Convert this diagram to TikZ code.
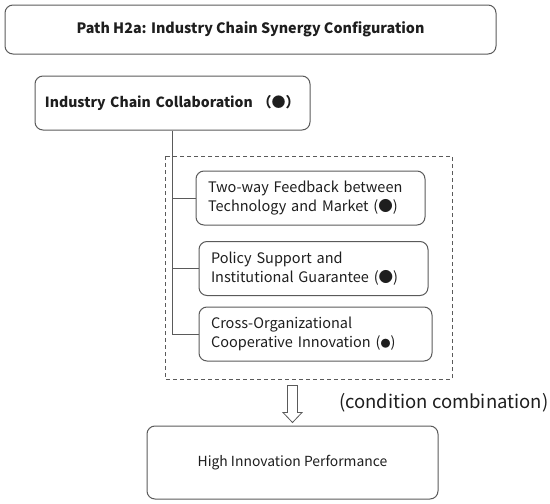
\documentclass[tikz,border=0pt]{standalone}
\usepackage{fontspec}
\usetikzlibrary{calc}
\setmainfont{Noto Sans CJK SC}
\definecolor{edge}{HTML}{5A5A5A}
\definecolor{ink}{HTML}{1E1E1E}
\tikzset{
  roundbox/.style={draw=edge,line width=1pt,rounded corners=8pt,text=ink,inner sep=0pt},
  factorbox/.style={roundbox,minimum height=54pt,text width=#1,align=left,font=\fontsize{14.5}{19.5}\selectfont},
  link/.style={draw=edge,line width=0.8pt}
}
\begin{document}
\begin{tikzpicture}[x=1pt,y=-1pt]
\useasboundingbox (0,0) rectangle (550,504);
% title and core condition
\node[roundbox,minimum width=491pt,minimum height=49pt,font=\fontsize{14.3}{16}\selectfont\bfseries] (title) at (250.5,29.5) {Path H2a: Industry Chain Synergy Configuration};
\node[roundbox,minimum width=275pt,minimum height=54pt,text width=255pt,align=left,font=\fontsize{14}{16}\selectfont\bfseries] (collab) at (172.5,103) {Industry Chain Collaboration （●）};

% dashed frame of the three conditions
\draw[edge,line width=0.8pt,dash pattern=on 4pt off 3pt] (165,156) rectangle (452,379);
\node[factorbox=205pt,minimum width=229pt] (feedback) at (310.5,198) {Two-way Feedback between\\Technology and Market (●)};
\node[factorbox=205pt,minimum width=229pt] (policy) at (313.5,268.5) {Policy Support and\\Institutional Guarantee (●)};
\node[factorbox=209pt,minimum width=233pt] (coop) at (315.5,334) {Cross-Organizational\\Cooperative Innovation ({\fontsize{10}{10}\selectfont●})};

% tree lines
\draw[link] (collab.south) -- (collab.south |- coop.west) -- (coop.west);
\draw[link] (collab.south |- feedback.west) -- (feedback.west);
\draw[link] (collab.south |- policy.west) -- (policy.west);

% outcome
\node[roundbox,minimum width=291pt,minimum height=73pt,font=\fontsize{13.9}{16}\selectfont] (perf) at (292.5,462.5) {High Innovation Performance};
\coordinate (tip) at (perf.north);
\draw[edge,line width=0.8pt,fill=white] ($(tip)+(-5,-40)$) -- ($(tip)+(5,-40)$) -- ($(tip)+(5,-13)$) -- ($(tip)+(9.5,-13)$) -- ($(tip)+(0,-3)$) -- ($(tip)+(-9.5,-13)$) -- ($(tip)+(-5,-13)$) -- cycle;
\node[text=ink,font=\fontsize{18.5}{20}\selectfont,anchor=west,inner sep=0pt] (combo) at (339,403) {(condition combination)};
\end{tikzpicture}
\end{document}
